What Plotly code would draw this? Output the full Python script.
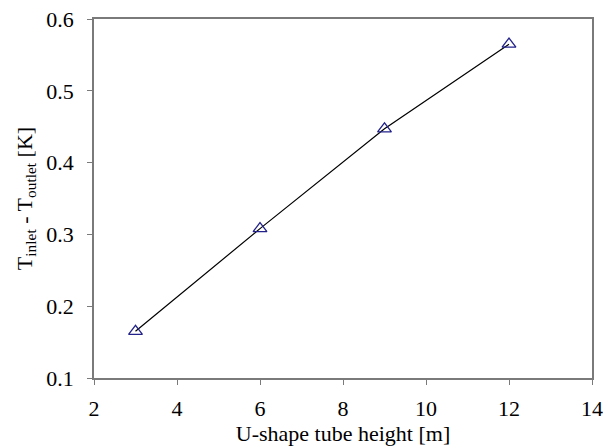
import plotly.graph_objects as go

heights = [3, 6, 9, 12]
delta_t = [0.165, 0.308, 0.447, 0.565]
x_ticks = [2, 4, 6, 8, 10, 12, 14]
y_ticks = [0.1, 0.2, 0.3, 0.4, 0.5, 0.6]

fig = go.Figure()
fig.add_trace(go.Scatter(
    x=heights, y=delta_t, mode="lines+markers",
    line=dict(color="black", width=1.2),
    marker=dict(symbol="triangle-up-open", size=12, color="#22228a", line=dict(width=1.3)),
    showlegend=False,
))

font = dict(family="Liberation Serif, Times New Roman, serif", size=22, color="black")
fig.update_layout(
    width=603, height=446,
    margin=dict(l=94, r=11, t=19, b=68),
    paper_bgcolor="white", plot_bgcolor="white",
    font=font,
)
fig.update_xaxes(
    range=[2, 14], tickvals=x_ticks, ticktext=[str(v) for v in x_ticks],
    showline=True, linecolor="#7a7a7a", linewidth=1.5, mirror=True,
    ticks="outside", ticklen=5, tickcolor="#7a7a7a", showgrid=False, zeroline=False,
    automargin=False, ticklabelstandoff=5,
    title=dict(text="U-shape tube height [m]", standoff=10, font=font),
)
fig.update_yaxes(
    range=[0.1, 0.6], tickvals=y_ticks, ticktext=[f"{v:.1f}" for v in y_ticks],
    showline=True, linecolor="#7a7a7a", linewidth=1.5, mirror=True,
    ticks="outside", ticklen=5, tickcolor="#7a7a7a", showgrid=False, zeroline=False,
    automargin=False, ticklabelstandoff=9,
    title=dict(text="T<sub>inlet</sub> - T<sub>outlet</sub> [K]", standoff=8, font=font),
)
fig.write_html(
    "out.html",
    config={"displayModeBar": False},
    post_script="document.body.style.margin='0';document.body.style.overflow='hidden';",
)
